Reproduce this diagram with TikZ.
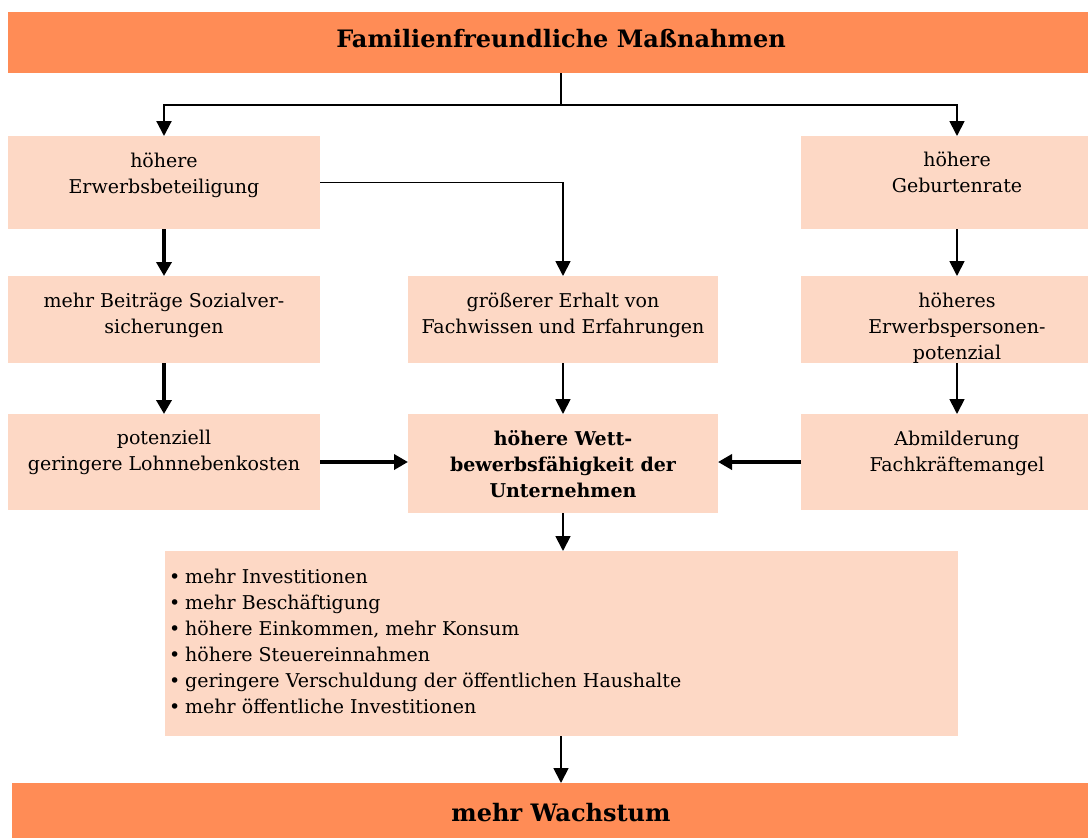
\documentclass[tikz,border=0pt]{standalone}
\usepackage{fontspec}
\setmainfont{DejaVu Serif}
\usetikzlibrary{arrows.meta}
\definecolor{barorange}{RGB}{255,140,86}
\definecolor{boxpeach}{RGB}{253,216,197}
\begin{document}
\begin{tikzpicture}[x=1pt,y=-1pt,
  lbox/.style={fill=boxpeach, draw=none, inner sep=0pt, outer sep=0pt},
  obar/.style={fill=barorange, draw=none, inner sep=0pt, outer sep=0pt},
  txt/.style={align=center, font=\fontsize{19}{26}\selectfont, inner sep=0pt},
  btxt/.style={align=center, font=\fontsize{19}{26}\selectfont\bfseries, inner sep=0pt},
  ttl/.style={font=\fontsize{24}{30}\selectfont\bfseries, inner sep=0pt},
  athin/.style={line width=1.8pt, -{Triangle[width=15pt,length=15pt]}},
  athick/.style={line width=4pt, -{Triangle[width=15pt,length=14pt]}},
  ln/.style={line width=1.8pt}]
\useasboundingbox (0,0) rectangle (1088,838);
\clip (0,0) rectangle (1088,838);
% bars
\node[obar, minimum width=1106pt, minimum height=61pt] (top) at (561,42.5) {};
\node[obar, minimum width=1098pt, minimum height=60pt] (bot) at (561,813) {};
% boxes
\node[lbox, minimum width=312pt, minimum height=93pt] (b1) at (164,182.5) {};
\node[lbox, minimum width=312pt, minimum height=93pt] (r1) at (957,182.5) {};
\node[lbox, minimum width=312pt, minimum height=87pt] (b2) at (164,319.5) {};
\node[lbox, minimum width=310pt, minimum height=87pt] (c2) at (563,319.5) {};
\node[lbox, minimum width=312pt, minimum height=87pt] (r2) at (957,319.5) {};
\node[lbox, minimum width=312pt, minimum height=96pt] (b3) at (164,462) {};
\node[lbox, minimum width=310pt, minimum height=99pt] (c3) at (563,463.5) {};
\node[lbox, minimum width=312pt, minimum height=96pt] (r3) at (957,462) {};
\node[lbox, minimum width=793pt, minimum height=185pt] (bul) at (561,643.5) {};
% texts (anchor=base is the baseline of the last line)
\node[ttl, anchor=base] (ttop) at (561,47) {Familienfreundliche Maßnahmen};
\node[ttl, anchor=base] (tbot) at (561,821) {mehr Wachstum};
\node[txt, anchor=base] (tb1) at (164,193) {höhere\\Erwerbsbeteiligung};
\node[txt, anchor=base] (tr1) at (957,192) {höhere\\Geburtenrate};
\node[txt, anchor=base] (tb2) at (164,333) {mehr Beiträge Sozialver-\\sicherungen};
\node[txt, anchor=base] (tc2) at (563,333) {größerer Erhalt von\\Fachwissen und Erfahrungen};
\node[txt, anchor=base] (tr2) at (957,359) {höheres\\Erwerbspersonen-\\potenzial};
\node[txt, anchor=base] (tb3) at (164,470) {potenziell\\geringere Lohnnebenkosten};
\node[btxt, anchor=base] (tc3) at (563,497) {höhere Wett-\\bewerbsfähigkeit der\\Unternehmen};
\node[txt, anchor=base] (tr3) at (957,471) {Abmilderung\\Fachkräftemangel};
\node[txt, align=left, anchor=base west] (tbul) at (169,713) {%
\makebox[16pt][l]{•}mehr Investitionen\\
\makebox[16pt][l]{•}mehr Beschäftigung\\
\makebox[16pt][l]{•}höhere Einkommen, mehr Konsum\\
\makebox[16pt][l]{•}höhere Steuereinnahmen\\
\makebox[16pt][l]{•}geringere Verschuldung der öffentlichen Haushalte\\
\makebox[16pt][l]{•}mehr öffentliche Investitionen};
% connectors
\coordinate (split) at (561,105);
\draw[ln] (top.south) -- (split);
\draw[athin, line width=2.2pt] (split) -| (b1.north);
\draw[athin] (split) -| (r1.north);
\draw[athick] (b1.south) -- (b2.north);
\draw[athick] (b2.south) -- (b3.north);
\draw[athin] (b1.east) -| (c2.north);
\draw[athin] (c2.south) -- (c3.north);
\draw[athin] (r1.south) -- (r2.north);
\draw[athin] (r2.south) -- (r3.north);
\draw[athick] (b3.east) -- (b3.east -| c3.west);
\draw[athick] (r3.west) -- (r3.west -| c3.east);
\draw[athin] (c3.south) -- (c3.south |- bul.north);
\draw[athin] (bul.south) -- (bot.north);
\end{tikzpicture}
\end{document}
